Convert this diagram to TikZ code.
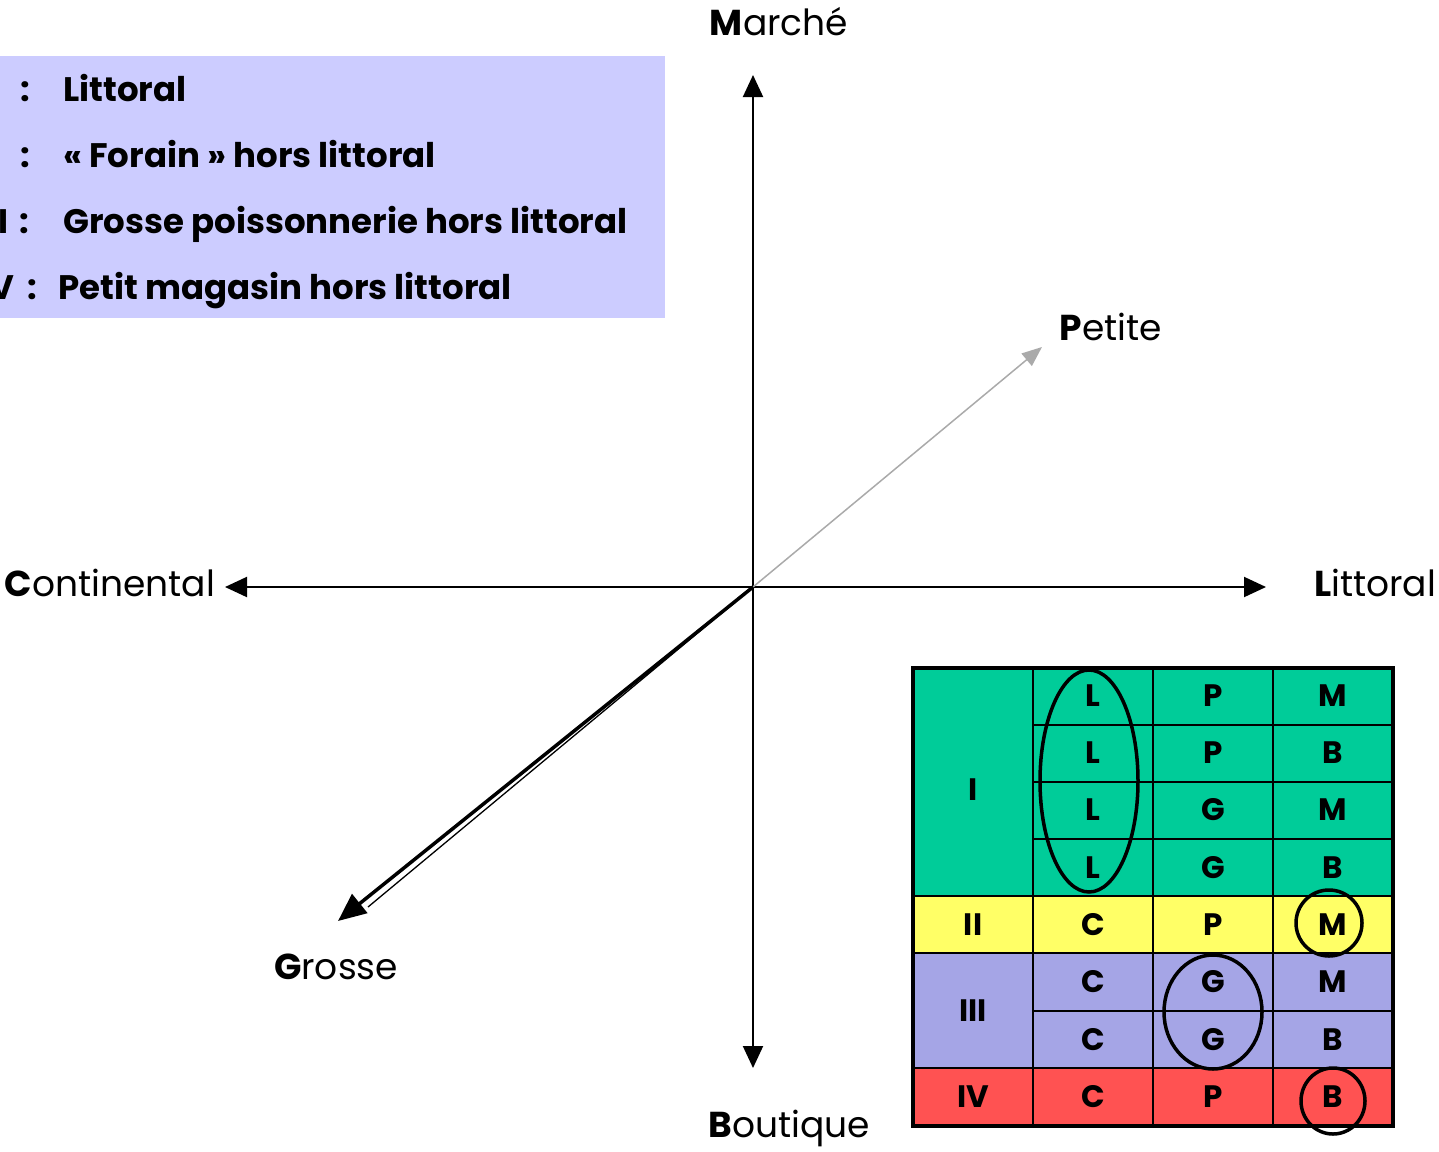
\documentclass[tikz,border=0pt]{standalone}
\usepackage{fontspec}
\setmainfont{Poppins}
\usetikzlibrary{arrows.meta}
\definecolor{legendbg}{RGB}{204,204,255}
\definecolor{grpI}{RGB}{0,204,153}
\definecolor{grpII}{RGB}{255,255,102}
\definecolor{grpIII}{RGB}{165,165,230}
\definecolor{grpIV}{RGB}{255,82,82}
\definecolor{axisgray}{RGB}{170,170,170}
\tikzset{
  axis/.style={line width=2pt, -{Triangle[length=22pt,width=20pt]}},
  axislabel/.style={font=\fontsize{36}{40}\selectfont, inner sep=0pt},
  legendtxt/.style={font=\fontsize{34}{38}\selectfont\bfseries, inner sep=0pt, anchor=base west},
  legendnum/.style={font=\fontsize{34}{38}\selectfont\bfseries, inner sep=0pt, anchor=base east},
  legendsep/.style={font=\fontsize{34}{38}\selectfont\bfseries, inner sep=0pt, anchor=base},
  cell/.style={font=\fontsize{31}{34}\selectfont\bfseries, inner sep=0pt},
  ring/.style={draw=black, line width=3.5pt},
}
\begin{document}
\begin{tikzpicture}[x=1pt,y=-1pt]
\useasboundingbox (0,0) rectangle (1439,1151);

% legend: group numerals sit left of a tab stop, colons at the stop
\fill[legendbg] (-20,56) rectangle (665,318);
\node[legendnum] (n1) at (-25,101) {I};
\node[legendsep] (s1) at (25,101) {:};
\node[legendtxt] (t1) at (63,101) {Littoral};
\node[legendnum] (n2) at (-20,167) {II};
\node[legendsep] (s2) at (25,167) {:};
\node[legendtxt] (t2) at (63,167) {« Forain » hors littoral};
\node[legendnum] (n3) at (9,233) {III};
\node[legendsep] (s3) at (24,233) {:};
\node[legendtxt] (t3) at (63,233) {Grosse poissonnerie hors littoral};
\node[legendnum] (n4) at (15,299) {IV};
\node[legendsep] (s4) at (32,299) {:};
\node[legendtxt] (t4) at (58,299) {Petit magasin hors littoral};

% axes
\coordinate (O) at (753,587);
\coordinate (top) at (753,75);
\coordinate (bottom) at (753,1068);
\coordinate (left) at (225,587);
\coordinate (right) at (1266,587);
\coordinate (pet) at (1042,347);
\coordinate (gro) at (338,921);
\coordinate (groB) at (368,907);
\draw[axis] (O) -- (top);
\draw[axis] (O) -- (bottom);
\draw[axis] (O) -- (left);
\draw[axis] (O) -- (right);
\draw[line width=1.5pt, axisgray, -{Triangle[length=20pt,width=16pt]}] (O) -- (pet);
\draw[line width=1.3pt] (O) -- (groB);
\draw[line width=3.5pt, -{Triangle[length=28pt,width=24pt]}] (O) -- (gro);

\node[axislabel] (lm) at (779,22) {\textbf{M}arché};
\node[axislabel] (lp) at (1111,327) {\textbf{P}etite};
\node[axislabel] (lc) at (110,583) {\textbf{C}ontinental};
\node[axislabel] (ll) at (1375,583) {\textbf{L}ittoral};
\node[axislabel] (lg) at (336,967) {\textbf{G}rosse};
\node[axislabel] (lb) at (789,1128) {\textbf{B}outique};

% table fills
\fill[grpI] (913,668) rectangle (1393,896);
\fill[grpII] (913,896) rectangle (1393,953);
\fill[grpIII] (913,953) rectangle (1393,1068);
\fill[grpIV] (913,1068) rectangle (1393,1126);
% table rules
\begin{scope}[line width=2pt]
\foreach \y in {725,782,839,1011} \draw (1033,\y) -- (1393,\y);
\foreach \y in {896,953,1068} \draw (913,\y) -- (1393,\y);
\foreach \x in {1033,1153,1273} \draw (\x,668) -- (\x,1126);
\end{scope}
\draw[line width=4pt] (913,668) rectangle (1393,1126);

% cell labels
\node[cell] (gI) at (973,790) {I};
\node[cell] (gII) at (973,925) {II};
\node[cell] (gIII) at (973,1011) {III};
\node[cell] (gIV) at (973,1097) {IV};
\foreach \y/\a/\b/\c [count=\i] in {696/L/P/M, 753/L/P/B, 810/L/G/M, 868/L/G/B, 925/C/P/M, 982/C/G/M, 1040/C/G/B, 1097/C/P/B}{
  \node[cell] (a\i) at (1093,\y) {\a};
  \node[cell] (b\i) at (1213,\y) {\b};
  \node[cell] (c\i) at (1333,\y) {\c};
}

% highlight rings
\draw[ring] (1089,781) ellipse [x radius=49, y radius=111];
\draw[ring] (1329,923) circle [radius=33];
\draw[ring] (1213,1012) ellipse [x radius=49, y radius=57];
\draw[ring] (1333,1101) ellipse [x radius=32, y radius=33];
\end{tikzpicture}
\end{document}
